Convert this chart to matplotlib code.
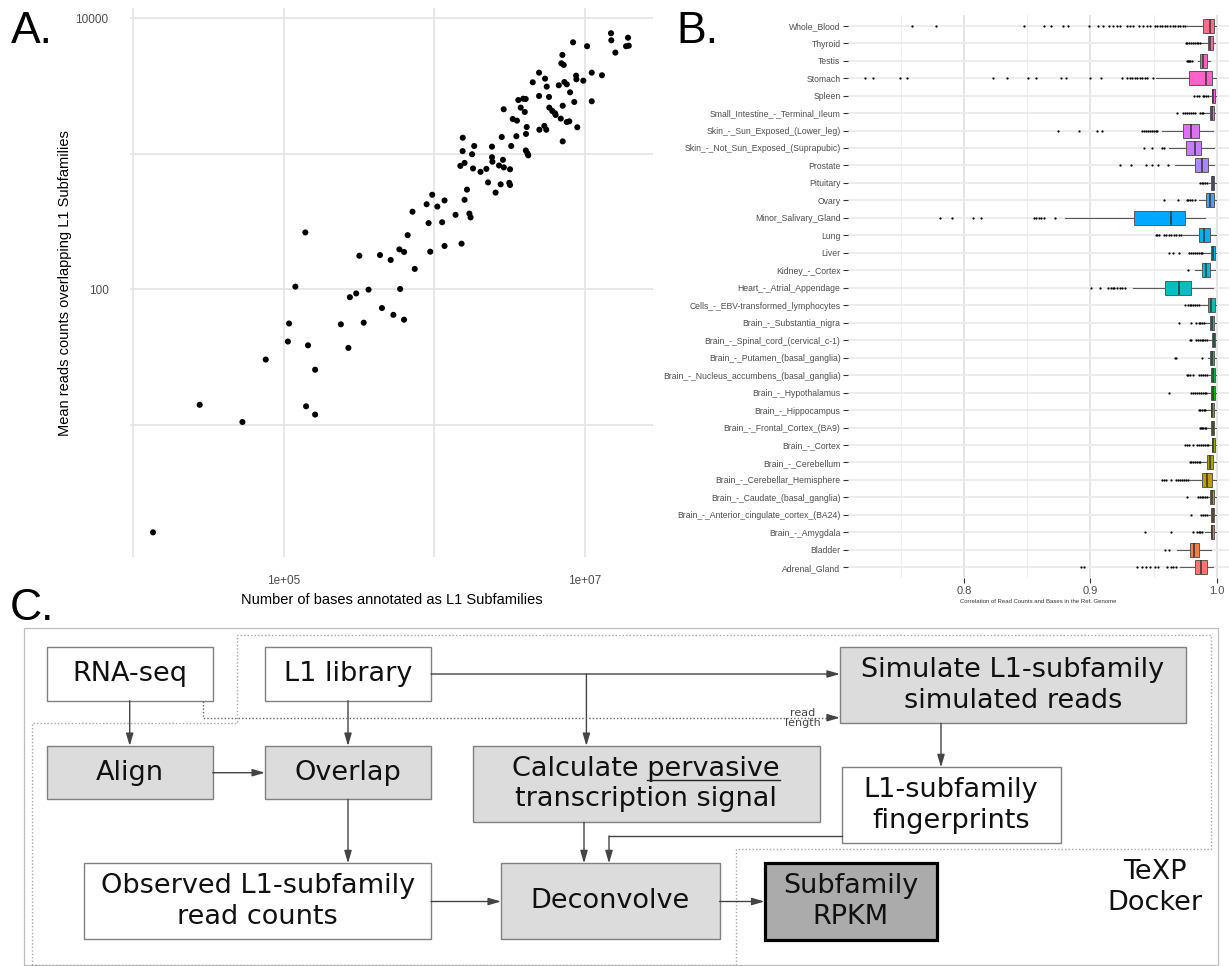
import numpy as np
import matplotlib
matplotlib.use('Agg')
import matplotlib.pyplot as plt
from matplotlib.patches import Rectangle, Polygon
from matplotlib.ticker import FixedLocator, FixedFormatter, NullLocator

log10_bases = np.array([
    4.133, 4.443, 4.727, 4.882, 5.029, 5.037, 5.079, 5.145, 5.150, 5.163, 5.210, 5.210,
    5.381, 5.431, 5.441, 5.483, 5.504, 5.533, 5.565, 5.641, 5.654, 5.712, 5.730, 5.770,
    5.775, 5.801, 5.801, 5.825, 5.857, 5.872, 5.951, 5.964, 5.975, 5.988, 6.022, 6.054,
    6.070, 6.070, 6.143, 6.175, 6.183, 6.190, 6.203, 6.203, 6.219, 6.235, 6.243, 6.253,
    6.259, 6.267, 6.309, 6.348, 6.359, 6.385, 6.385, 6.388, 6.409, 6.432, 6.443, 6.458,
    6.464, 6.500, 6.505, 6.505, 6.513, 6.610, 6.621, 6.626, 6.855,
    7.176, 7.178, 7.289, 7.205, 7.276, 7.294, 6.924, 7.017, 6.853, 6.846, 6.862, 6.698,
    6.656, 6.738, 6.749, 6.829, 6.866, 6.882, 6.904, 6.944, 6.946, 6.992, 7.048, 7.116,
    7.048, 6.932, 6.855, 6.698, 6.764, 6.560, 6.593, 6.609, 6.576, 6.603, 6.463, 6.523,
    6.551, 6.766, 6.786, 6.804, 6.808, 6.842, 6.882, 6.899, 6.952, 6.616, 6.611, 6.700,
    6.733, 6.746, 6.547, 6.450, 6.191])
log10_reads = np.array([
    0.208, 1.149, 1.022, 1.483, 1.616, 1.749, 2.021, 2.421, 1.138, 1.588, 1.408, 1.077,
    1.743, 1.569, 1.943, 1.971, 2.249, 1.755, 1.999, 2.254, 1.863, 2.218, 1.813, 2.296,
    2.004, 2.277, 1.777, 2.401, 2.574, 2.152, 2.629, 2.490, 2.279, 2.699, 2.612, 2.496,
    2.657, 2.321, 2.551, 2.912, 2.338, 3.021, 2.934, 2.662, 2.737, 2.560, 2.532, 2.998,
    2.893, 3.059, 2.868, 2.890, 2.790, 3.054, 2.976, 2.943, 2.715, 2.915, 2.776, 2.957,
    2.901, 2.787, 2.887, 2.771, 3.059, 3.026, 3.004, 2.990, 3.093,
    3.891, 3.839, 3.858, 3.748, 3.795, 3.799, 3.824, 3.795, 3.731, 3.669, 3.657, 3.600,
    3.529, 3.556, 3.497, 3.507, 3.531, 3.514, 3.455, 3.578, 3.551, 3.541, 3.600, 3.581,
    3.389, 3.384, 3.356, 3.428, 3.421, 3.398, 3.408, 3.406, 3.342, 3.310, 3.330, 3.258,
    3.246, 3.342, 3.317, 3.300, 3.288, 3.261, 3.236, 3.241, 3.197, 3.199, 3.148, 3.179,
    3.207, 3.179, 3.131, 3.125, 3.120])
a_xticks = [1e4, 1e5, 1e6, 1e7]
a_xticklabels = ['', '1e+05', '', '1e+07']
a_yticks = [1e1, 1e2, 1e3, 1e4]
a_yticklabels = ['', '100', '', '10000']

# ---------------- Panel B data ----------------
tissues = ['Adrenal_Gland', 'Bladder', 'Brain_-_Amygdala', 'Brain_-_Anterior_cingulate_cortex_(BA24)',
           'Brain_-_Caudate_(basal_ganglia)', 'Brain_-_Cerebellar_Hemisphere', 'Brain_-_Cerebellum',
           'Brain_-_Cortex', 'Brain_-_Frontal_Cortex_(BA9)', 'Brain_-_Hippocampus', 'Brain_-_Hypothalamus',
           'Brain_-_Nucleus_accumbens_(basal_ganglia)', 'Brain_-_Putamen_(basal_ganglia)',
           'Brain_-_Spinal_cord_(cervical_c-1)', 'Brain_-_Substantia_nigra',
           'Cells_-_EBV-transformed_lymphocytes', 'Heart_-_Atrial_Appendage', 'Kidney_-_Cortex', 'Liver',
           'Lung', 'Minor_Salivary_Gland', 'Ovary', 'Pituitary', 'Prostate',
           'Skin_-_Not_Sun_Exposed_(Suprapubic)', 'Skin_-_Sun_Exposed_(Lower_leg)',
           'Small_Intestine_-_Terminal_Ileum', 'Spleen', 'Stomach', 'Testis', 'Thyroid', 'Whole_Blood']
q1 = [.9827, .9787, .9951, .9955, .9945, .9886, .9926, .9960, .9957, .9952, .9952, .9955, .9950, .9960,
      .9950, .9933, .9588, .9886, .9954, .9856, .9348, .9917, .9954, .9825, .9754, .9733, .9945, .9959,
      .9782, .9871, .9927, .9888]
med = [.9878, .9821, .9966, .9967, .9962, .9923, .9948, .9972, .9971, .9966, .9969, .9970, .9965, .9975,
       .9966, .9954, .9702, .9917, .9970, .9896, .9640, .9948, .9972, .9880, .9825, .9794, .9963, .9972,
       .9911, .9893, .9948, .9948]
q3 = [.9925, .9858, .9980, .9982, .9979, .9963, .9970, .9985, .9982, .9979, .9985, .9985, .9982, .9988,
      .9982, .9985, .9794, .9948, .9988, .9948, .9748, .9979, .9982, .9933, .9877, .9856, .9977, .9985,
      .9961, .9923, .9972, .9977]
whisk_lo = [.9708, .9682, .9905, .9935, .9935, .9785, .9880, .9940, .9930, .9915, .9925, .9935, .9930,
            .9935, .9910, .9875, .9333, .9825, .9895, .9730, .8795, .9856, .9935, .9671, .9620, .9563,
            .9900, .9945, .9515, .9855, .9870, .9761]
whisk_hi = [.9972, .9951, .9992, .9994, .9992, .9994, .9994, .9995, .9994, .9993, .9995, .9995, .9994,
            .9996, .9994, .9996, .9970, .9985, .9996, .9994, .9908, .9994, .9994, .9979, .9979, .9970,
            .9990, .9994, .9994, .9945, .9990, .9993]
outliers = [
    [.8925, .8945, .9370, .9405, .9436, .9470, .9510, .9536, .9610, .9634, .9655, .9676],
    [.9594, .9623],
    [.9431, .9634, .9813, .9845, .9858, .9870, .9882],
    [.9800, .9877, .9890, .9905, .9923],
    [.9763, .9850, .9865, .9880, .9895, .9910, .9925],
    [.9570, .9585, .9600, .9640, .9680, .9695, .9710, .9725, .9740, .9755, .9770],
    [.9788, .9800, .9815, .9830, .9845, .9860, .9871],
    [.9748, .9765, .9780, .9809, .9847, .9862, .9877, .9892, .9907, .9920, .9933],
    [.9865, .9875, .9885, .9895, .9905, .9915],
    [.9856, .9870, .9885, .9900, .9908],
    [.9619, .9794, .9810, .9825, .9840, .9860, .9875, .9890, .9905, .9917],
    [.9763, .9775, .9790, .9809, .9862, .9875, .9890, .9905, .9923],
    [.9671, .9680, .9886],
    [.9785, .9800, .9835, .9850, .9865, .9880, .9895, .9910, .9922],
    [.9702, .9794, .9834, .9856, .9870, .9885, .9902],
    [.9748, .9770, .9790, .9800, .9810, .9825, .9840, .9856],
    [.9001, .9072, .9142, .9160, .9175, .9190, .9210, .9230, .9250, .9270],
    [.9770],
    [.9625, .9656, .9702, .9779, .9800, .9815, .9830, .9845, .9860, .9875, .9886],
    [.9517, .9530, .9545, .9580, .9600, .9625, .9640, .9660, .9680, .9700, .9717],
    [.7810, .7903, .8066, .8134, .8549, .8570, .8590, .8610, .8630, .8718],
    [.9585, .9696, .9763, .9775, .9790, .9805, .9825],
    [.9865, .9880, .9895, .9910, .9923],
    [.9235, .9318, .9441, .9487, .9533, .9616],
    [.9425, .9487, .9563, .9579],
    [.8742, .8912, .9050, .9093, .9410, .9425, .9440, .9455, .9470, .9485, .9500, .9515, .9530],
    [.9682, .9735, .9750, .9765, .9780, .9795, .9810, .9827, .9867, .9880, .9893],
    [.9819, .9840, .9861, .9888, .9900, .9914, .9932],
    [.7211, .7279, .7488, .7549, .8226, .8343, .8509, .8570, .8766, .8804, .8995, .9082, .9246, .9286,
     .9310, .9330, .9350, .9370, .9390, .9410, .9430, .9444, .9497],
    [.9761, .9770, .9780, .9790, .9801],
    [.9753, .9765, .9780, .9795, .9810, .9825, .9840, .9855, .9866],
    [.7586, .7780, .8472, .8631, .8686, .8784, .8821, .8985, .9061, .9101, .9148, .9180, .9210, .9233,
     .9286, .9310, .9340, .9386, .9418, .9445, .9470, .9510, .9530, .9550, .9570, .9590, .9610, .9630,
     .9650, .9670, .9690, .9710, .9730, .9750],
]
b_major = [0.8, 0.9, 1.0]
b_major_labels = ['0.8', '0.9', '1.0']
b_minor = [0.75, 0.85, 0.95]

# ---------------- helpers ----------------
W, H = 1229, 966
DPI = 100
SANS = ['Liberation Sans', 'DejaVu Sans']
FLOW = ['DejaVu Sans']


def fig_rect(l, t, r, b):
    return [l / W, 1 - b / H, (r - l) / W, (b - t) / H]


def hcl_hex(h, c=100.0, l=65.0):
    WX, WY, WZ = 95.047, 100.0, 108.883
    hr = np.deg2rad(h)
    U, V = c * np.cos(hr), c * np.sin(hr)
    Y = WY * ((l + 16) / 116) ** 3
    t = WX + WY + WZ
    x, y = WX / t, WY / t
    uN = 2 * x / (6 * y - x + 1.5)
    vN = 4.5 * y / (6 * y - x + 1.5)
    u = U / (13 * l) + uN
    v = V / (13 * l) + vN
    X = 9.0 * Y * u / (4 * v)
    Z = -X / 3 - 5 * Y + 3 * Y / v

    def g(q):
        q = min(max(q, 0.0), 1.0)
        return 1.055 * q ** (1 / 2.4) - 0.055 if q > 0.00304 else 12.92 * q
    r = g((3.240479 * X - 1.537150 * Y - 0.498535 * Z) / WY)
    gg = g((-0.969256 * X + 1.875992 * Y + 0.041556 * Z) / WY)
    b = g((0.055648 * X - 0.204043 * Y + 1.057311 * Z) / WY)
    return (min(max(r, 0), 1), min(max(gg, 0), 1), min(max(b, 0), 1))


fig = plt.figure(figsize=(W / DPI, H / DPI), dpi=DPI)

# ---------------- Panel A ----------------
ax_a = fig.add_axes(fig_rect(130, 8.3, 653, 557))
ax_a.set_xscale('log')
ax_a.set_yscale('log')
ax_a.scatter(10 ** log10_bases, 10 ** log10_reads, s=19, c='black', edgecolors='none', zorder=3)
ax_a.set_xlim(10 ** 3.98, 10 ** 7.455)
ax_a.set_ylim(10 ** 0.026, 10 ** 4.075)
ax_a.xaxis.set_major_locator(FixedLocator(a_xticks))
ax_a.xaxis.set_major_formatter(FixedFormatter(a_xticklabels))
ax_a.xaxis.set_minor_locator(NullLocator())
ax_a.yaxis.set_major_locator(FixedLocator(a_yticks))
ax_a.yaxis.set_major_formatter(FixedFormatter(a_yticklabels))
ax_a.yaxis.set_minor_locator(NullLocator())
for s in ax_a.spines.values():
    s.set_visible(False)
ax_a.grid(True, color='#E3E3E3', lw=1.2)
ax_a.set_axisbelow(True)
ax_a.tick_params(length=0, labelsize=8.5, labelcolor='#4D4D4D')
ax_a.tick_params(axis='y', pad=15.5)
ax_a.tick_params(axis='x', pad=13)
for lab in ax_a.get_xticklabels() + ax_a.get_yticklabels():
    lab.set_family(SANS)

# ---------------- Panel B ----------------
ax_b = fig.add_axes(fig_rect(848, 15.2, 1229, 577.8))
positions = np.arange(len(tissues))
colors = [hcl_hex(15 + 360.0 * i / len(tissues)) for i in range(len(tissues))]
stats = []
for i in range(len(tissues)):
    stats.append(dict(med=med[i], q1=q1[i], q3=q3[i], whislo=whisk_lo[i], whishi=whisk_hi[i],
                      fliers=np.array(outliers[i])))
res = ax_b.bxp(stats, positions=positions, widths=0.8, vert=False, patch_artist=True,
               showcaps=False, showfliers=True,
               boxprops=dict(edgecolor='#5A5A5A', linewidth=0.7),
               whiskerprops=dict(color='#5A5A5A', linewidth=0.8),
               medianprops=dict(color='#333333', linewidth=1.1),
               flierprops=dict(marker='o', markersize=1.6, markerfacecolor='black',
                               markeredgecolor='none'))
for patch, col in zip(res['boxes'], colors):
    patch.set_facecolor(col)
ax_b.set_xlim(0.708, 1.0097)
ax_b.set_ylim(-0.6, len(tissues) - 0.4)
ax_b.set_yticks(positions)
ax_b.set_yticklabels(tissues)
ax_b.xaxis.set_major_locator(FixedLocator(b_major))
ax_b.xaxis.set_major_formatter(FixedFormatter(b_major_labels))
ax_b.xaxis.set_minor_locator(FixedLocator(b_minor))
for s in ax_b.spines.values():
    s.set_visible(False)
ax_b.set_axisbelow(True)
ax_b.grid(True, which='major', axis='y', color='#EBEBEB', lw=1.3)
ax_b.grid(True, which='major', axis='x', color='#E2E2E2', lw=1.3)
ax_b.grid(True, which='minor', axis='x', color='#EEEEEE', lw=0.8)
ax_b.tick_params(axis='y', length=3.6, width=0.8, color='#333333', pad=1.8,
                 labelsize=6.2, labelcolor='#4D4D4D')
ax_b.tick_params(axis='x', which='major', length=3.6, width=0.8, color='#333333', pad=2,
                 labelsize=8, labelcolor='#4D4D4D')
ax_b.tick_params(axis='x', which='minor', length=0)
for lab in ax_b.get_xticklabels() + ax_b.get_yticklabels():
    lab.set_family(SANS)

# ---------------- Overlay (titles, panel letters, flowchart) in pixel coords ----------------
ov = fig.add_axes([0, 0, 1, 1])
ov.set_xlim(0, W)
ov.set_ylim(H, 0)
ov.axis('off')
ov.patch.set_visible(False)

ov.text(11, 43.3, 'A.', fontsize=32, family=SANS, ha='left', va='baseline')
ov.text(676, 43.3, 'B.', fontsize=32, family=SANS, ha='left', va='baseline')
ov.text(10, 620, 'C.', fontsize=32, family=SANS, ha='left', va='baseline')

ov.text(391.5, 600, 'Number of bases annotated as L1 Subfamilies', fontsize=10.5, family=SANS,
        ha='center', va='center')
ov.text(65, 283, 'Mean reads counts overlapping L1 Subfamilies', fontsize=10.5, family=SANS,
        rotation=90, ha='center', va='center')
ov.text(1038.5, 601.7, 'Correlation of Read Counts and Bases in the Ref. Genome', fontsize=4.3,
        family=SANS, ha='center', va='center', color='#333333')

# flowchart frames
ov.add_patch(Rectangle((23.7, 627.7), 1218.3 - 23.7, 965.3 - 627.7, fill=False,
                       edgecolor='#BDBDBD', lw=0.9))
dock = [(31.6, 964.5), (31.6, 722.7), (237.3, 722.7), (237.3, 635), (1211, 635), (1211, 849),
        (736.4, 849), (736.4, 964.5)]
ov.add_patch(Polygon(dock, closed=True, fill=False, edgecolor='#A8A8A8', lw=1.0,
                     linestyle=(0, (1, 1.5))))

GREY = '#DCDCDC'
EDGE = '#808080'
FS = 19.5


def box(l, t, r, b, fill='white', edge=EDGE, lw=1.0):
    ov.add_patch(Rectangle((l, t), r - l, b - t, facecolor=fill, edgecolor=edge, lw=lw, zorder=2))


def label(cx, cy, s, fs=FS):
    return ov.text(cx, cy, s, fontsize=fs, family=FLOW, ha='center', va='center', linespacing=1.23,
                   color='#111111', zorder=4)


box(46.7, 647.3, 212.7, 700.7)
label(129.7, 674, 'RNA-seq')
box(265, 647.3, 431, 700.7)
label(348, 674, 'L1 library')
box(46.7, 746, 212.7, 799.3, fill=GREY)
label(129.7, 772.7, 'Align')
box(265, 746, 431, 799.3, fill=GREY)
label(348, 772.7, 'Overlap')
box(472.5, 746, 819.8, 822.3, fill=GREY)
label(646, 784.2, 'Calculate pervasive\ntranscription signal')
box(84.2, 863.3, 431, 939.3)
label(257.6, 901.3, 'Observed L1-subfamily\nread counts')
box(501, 863.3, 719.5, 939.3, fill=GREY)
label(610, 901.3, 'Deconvolve')
box(839.9, 647.3, 1186.4, 723.3, fill=GREY)
label(1013, 685.3, 'Simulate L1-subfamily\nsimulated reads')
box(841.9, 767.3, 1060.5, 843.3)
label(951, 805.3, 'L1-subfamily\nfingerprints')
box(764.5, 862.7, 936.9, 940, fill='#ABABAB', edge='black', lw=2.3)
label(850.7, 901.3, 'Subfamily\nRPKM')
label(1155, 887.5, 'TeXP\nDocker')

# underline "pervasive"
renderer = fig.canvas.get_renderer()
tmp_full = ov.text(0, 0, 'Calculate pervasive', fontsize=FS, family=FLOW)
w_full = tmp_full.get_window_extent(renderer).width
tmp_full.remove()
tmp_p = ov.text(0, 0, 'pervasive', fontsize=FS, family=FLOW)
w_p = tmp_p.get_window_extent(renderer).width
tmp_p.remove()
x_right = 646 + w_full / 2
ov.plot([x_right - w_p, x_right], [779.8, 779.8], color='#222222', lw=1.0, zorder=5)

ACOL = '#444444'
AST = '-|>,head_length=0.75,head_width=0.22'


def arrow(p0, p1):
    ov.annotate('', xy=p1, xytext=p0,
                arrowprops=dict(arrowstyle=AST, color=ACOL, lw=1.0, shrinkA=0, shrinkB=0,
                                mutation_scale=10), zorder=3)


def seg(xs, ys, **kw):
    ov.plot(xs, ys, color=ACOL, lw=1.0, zorder=3, **kw)


arrow((129.7, 700.7), (129.7, 746))
arrow((348, 700.7), (348, 746))
arrow((212.7, 772.7), (265, 772.7))
arrow((431, 674), (839.9, 674))
arrow((586.4, 674), (586.4, 746))
arrow((348, 799.3), (348, 863.3))
arrow((431, 901.5), (501, 901.5))
arrow((584, 822.3), (584, 863.3))
seg([841.9, 609], [836, 836])
arrow((609, 836), (609, 863.3))
arrow((941, 723.3), (941, 767.3))
arrow((719.5, 901.5), (764.5, 901.5))

# dotted read-length link
ov.plot([202.8, 202.8, 828], [700.7, 717.7, 717.7], color='#666666', lw=1.0,
        linestyle=(0, (1, 1.5)), zorder=3)
arrow((828, 717.7), (839.9, 717.7))
ov.text(803, 718, 'read\nlength', fontsize=8, family=FLOW, ha='center', va='center',
        color='#444444', linespacing=1.0)

fig.savefig('out.png', dpi=DPI)
